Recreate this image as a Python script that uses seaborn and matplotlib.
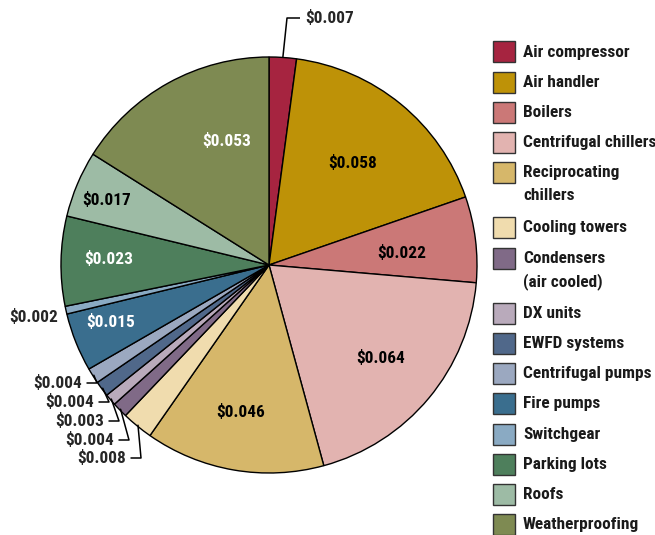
import matplotlib
matplotlib.use("Agg")
import matplotlib.pyplot as plt
from matplotlib import font_manager
from matplotlib.patches import Rectangle
import seaborn as sns
import numpy as np

# ---------------- data ----------------
categories = ["Air compressor", "Air handler", "Boilers", "Centrifugal chillers",
              "Reciprocating\nchillers", "Cooling towers", "Condensers\n(air cooled)",
              "DX units", "EWFD systems", "Centrifugal pumps", "Fire pumps",
              "Switchgear", "Parking lots", "Roofs", "Weatherproofing"]
values = [0.007, 0.058, 0.022, 0.064, 0.046, 0.008, 0.004, 0.003, 0.004, 0.004,
          0.015, 0.002, 0.023, 0.017, 0.053]
colors = ["#A62440", "#BE9207", "#CB7877", "#E2B3B0", "#D6B76A", "#F0DCAE", "#806A87",
          "#B9AABB", "#50688A", "#9BA8C0", "#3A6E8E", "#8AAAC3", "#4E7F5C", "#9DBBA5",
          "#7E8A52"]
value_labels = [f"${v:.3f}" for v in values]

# ---------------- style ----------------
sns.set_theme(style="white")
names = {f.name for f in font_manager.fontManager.ttflist}
fam = [f for f in ["Roboto Condensed", "Liberation Sans Narrow", "DejaVu Sans Condensed",
                   "Liberation Sans", "DejaVu Sans"] if f in names]
plt.rcParams["font.family"] = fam
FS = 12.4

W, H = 655, 535
CX, CY, R = 269, 265, 208
fig = plt.figure(figsize=(W / 100, H / 100), dpi=100)
ax = fig.add_axes([0, 0, 1, 1])


def P(px, py):
    return (px - CX) / R, (CY - py) / R


wedges, _ = ax.pie(values, colors=colors, startangle=90, counterclock=False,
                   radius=1, wedgeprops=dict(edgecolor="black", linewidth=1.0))
ax.set_xlim(P(0, 0)[0], P(W, 0)[0])
ax.set_ylim(P(0, H)[1], P(0, 0)[1])
ax.set_aspect("auto")
ax.axis("off")


def mid(w):
    return np.deg2rad((w.theta1 + w.theta2) / 2)


# inner labels: (radius fraction, clockwise angle nudge in degrees, text colour)
inner = {1: (0.635, 0, "black"), 2: (0.64, 2, "black"), 3: (0.70, 0, "black"),
         4: (0.72, 1, "black"), 10: (0.81, 2, "white"), 12: (0.77, 1, "white"),
         13: (0.84, -1, "black"), 14: (0.63, 10, "white")}
for i, (r, nudge, c) in inner.items():
    a = mid(wedges[i]) - np.deg2rad(nudge)
    ax.text(r * np.cos(a), r * np.sin(a), value_labels[i], ha="center", va="center",
            color=c, fontsize=FS, fontweight="bold")

# switchgear label outside, no leader
a = mid(wedges[11])
ax.text(1.16 * np.cos(a), 1.16 * np.sin(a), value_labels[11], ha="center", va="center",
        fontsize=FS, fontweight="bold")

# air compressor label with leader
a = mid(wedges[0])
ex, ey = np.cos(a), np.sin(a)
tx, ty = P(300, 18)
kx, _ = P(287, 18)
ax.plot([ex, kx, tx], [ey, ty, ty], color="black", lw=1.1, solid_capstyle="butt")
ax.text(P(305, 18)[0], ty, value_labels[0], ha="left", va="center",
        fontsize=FS, fontweight="bold")

# small slices with leaders (text right edge in px, y in px)
small = {9: (82, 383), 8: (94, 402), 7: (104, 421), 6: (114, 440), 5: (126, 458)}
for i, (rx, ry) in small.items():
    a = mid(wedges[i])
    ex, ey = 0.995 * np.cos(a), 0.995 * np.sin(a)
    x0, y0 = P(rx + 5, ry)
    x1, _ = P(rx + 15, ry)
    ax.plot([x0, x1, ex], [y0, y0, ey], color="black", lw=1.1)
    ax.text(P(rx, ry)[0], y0, value_labels[i], ha="right", va="center",
            fontsize=FS, fontweight="bold")

# legend
y = 52
for cat, col in zip(categories, colors):
    x0, y0 = P(493, y + 10.5)
    ax.add_patch(Rectangle((x0, y0), 22 / R, 21 / R, facecolor=col, edgecolor="#333333",
                           lw=1.0, clip_on=False))
    lines = cat.split("\n")
    for k, ln in enumerate(lines):
        lx, ly = P(523, y + 23 * k)
        ax.text(lx, ly, ln, ha="left", va="center", fontsize=FS, fontweight="bold",
                color="#1a1a1a")
    y += 30.2 + 25 * (len(lines) - 1)

fig.savefig("out.png", dpi=100)
